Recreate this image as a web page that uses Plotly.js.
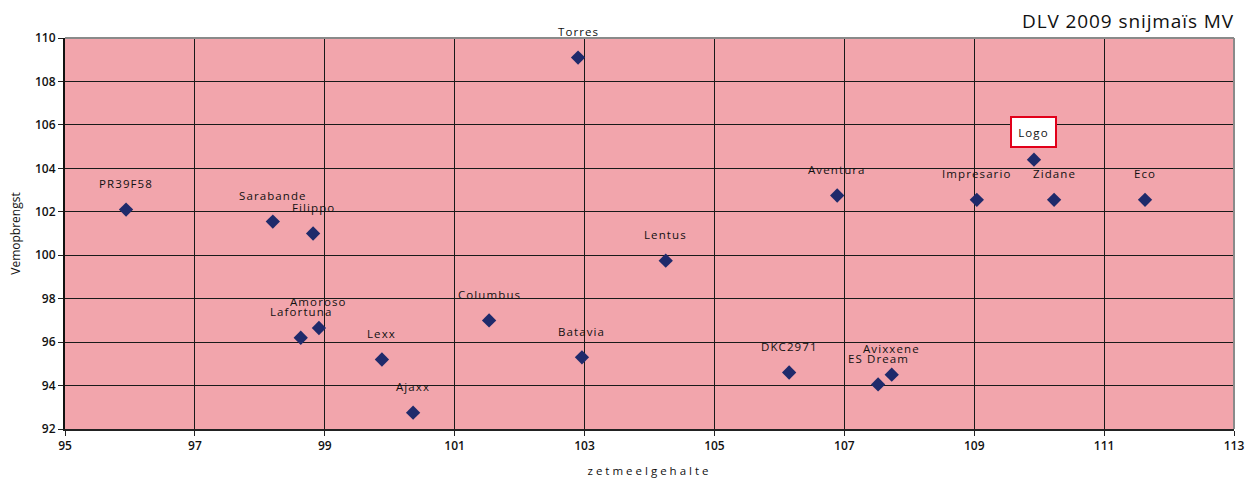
<!DOCTYPE html>
<html>
<head>
<meta charset="utf-8">
<script src="https://cdn.plot.ly/plotly-3.0.1.min.js"></script>
<style>
  html, body { margin: 0; padding: 0; background: #fff; }
  #chart { width: 1256px; height: 481px; }
  .annotation-text { letter-spacing: 1.1px; }
  .g-xtitle text { letter-spacing: 3px; }
  .gtitle { letter-spacing: 0.9px; }
</style>
</head>
<body>
<div id="chart"></div>
<script>
// ---- data ----
const varieties = ["PR39F58", "Sarabande", "Filippo", "Torres", "Lentus", "Aventura",
  "Impresario", "Logo", "Zidane", "Eco", "Lafortuna", "Amoroso", "Lexx", "Ajaxx",
  "Columbus", "Batavia", "DKC2971", "ES Dream", "Avixxene"];
const zetmeel = [95.94, 98.20, 98.82, 102.90, 104.25, 106.89,
  109.04, 109.92, 110.23, 111.63, 98.63, 98.91, 99.88, 100.36,
  101.53, 102.96, 106.15, 107.52, 107.73];
const opbrengst = [102.1, 101.55, 101.0, 109.1, 99.75, 102.75,
  102.55, 104.4, 102.55, 102.55, 96.2, 96.65, 95.2, 92.75,
  97.0, 95.3, 94.6, 94.05, 94.5];
const highlighted = ["Logo"];
const xTicks = [95, 97, 99, 101, 103, 105, 107, 109, 111, 113];
const yTicks = [92, 94, 96, 98, 100, 102, 104, 106, 108, 110];
const chartTitle = "DLV 2009 snijmaïs MV";
const xTitle = "zetmeelgehalte";
const yTitle = "Vemopbrengst";

const FONT = "'Open Sans', 'DejaVu Sans', sans-serif";

const trace = {
  type: "scatter",
  mode: "markers",
  x: zetmeel,
  y: opbrengst,
  text: varieties,
  marker: { symbol: "diamond", size: 11, color: "#1f2a6b", line: { width: 0 } },
  hoverinfo: "text+x+y",
  cliponaxis: false
};

const annotations = varieties.map((name, i) => {
  const isHi = highlighted.includes(name);
  const a = {
    x: zetmeel[i], y: opbrengst[i], xref: "x", yref: "y",
    text: name, showarrow: false,
    xanchor: "center", yanchor: "middle",
    yshift: isHi ? 28 : 26,
    font: { family: FONT, size: 11.5, color: "#111" }
  };
  if (isHi) {
    a.bgcolor = "#ffffff";
    a.bordercolor = "#e2001a";
    a.borderwidth = 2;
    a.borderpad = 1;
    a.width = 41;
    a.height = 26;
  }
  return a;
});

const layout = {
  width: 1256, height: 481,
  margin: { l: 65, r: 22, t: 38, b: 52 },
  paper_bgcolor: "#ffffff",
  plot_bgcolor: "#f2a5ac",
  showlegend: false,
  title: {
    text: chartTitle,
    font: { family: FONT, size: 19, color: "#111" },
    xref: "paper", x: 1, xanchor: "right",
    yref: "container", y: 0.956, yanchor: "middle"
  },
  xaxis: {
    range: [95, 113], tickvals: xTicks, ticktext: xTicks.map(String),
    showgrid: true, gridcolor: "#1a1a1a", gridwidth: 1,
    zeroline: false,
    showline: true, linecolor: "#222", linewidth: 2,
    ticks: "outside", ticklen: 5, tickcolor: "#222", tickwidth: 1,
    tickfont: { family: FONT, size: 12, color: "#111", weight: 600 },
    title: { text: xTitle, font: { family: FONT, size: 11.5, color: "#111" }, standoff: 14 }
  },
  yaxis: {
    range: [92, 110], tickvals: yTicks, ticktext: yTicks.map(String),
    showgrid: true, gridcolor: "#1a1a1a", gridwidth: 1,
    zeroline: false,
    showline: true, linecolor: "#111", linewidth: 2,
    ticks: "outside", ticklen: 5, tickcolor: "#222", tickwidth: 1,
    tickfont: { family: FONT, size: 12, color: "#111", weight: 600 },
    title: { text: yTitle, font: { family: FONT, size: 12, color: "#111" }, standoff: 12 }
  },
  shapes: [
    { type: "line", xref: "paper", yref: "paper", x0: 0, x1: 1, y0: 1, y1: 1,
      line: { color: "#8a8a8a", width: 2 } },
    { type: "line", xref: "paper", yref: "paper", x0: 1, x1: 1, y0: 0, y1: 1,
      line: { color: "#8a8a8a", width: 2 } }
  ],
  annotations: annotations
};

Plotly.newPlot("chart", [trace], layout, { displayModeBar: false, staticPlot: true });
</script>
</body>
</html>
